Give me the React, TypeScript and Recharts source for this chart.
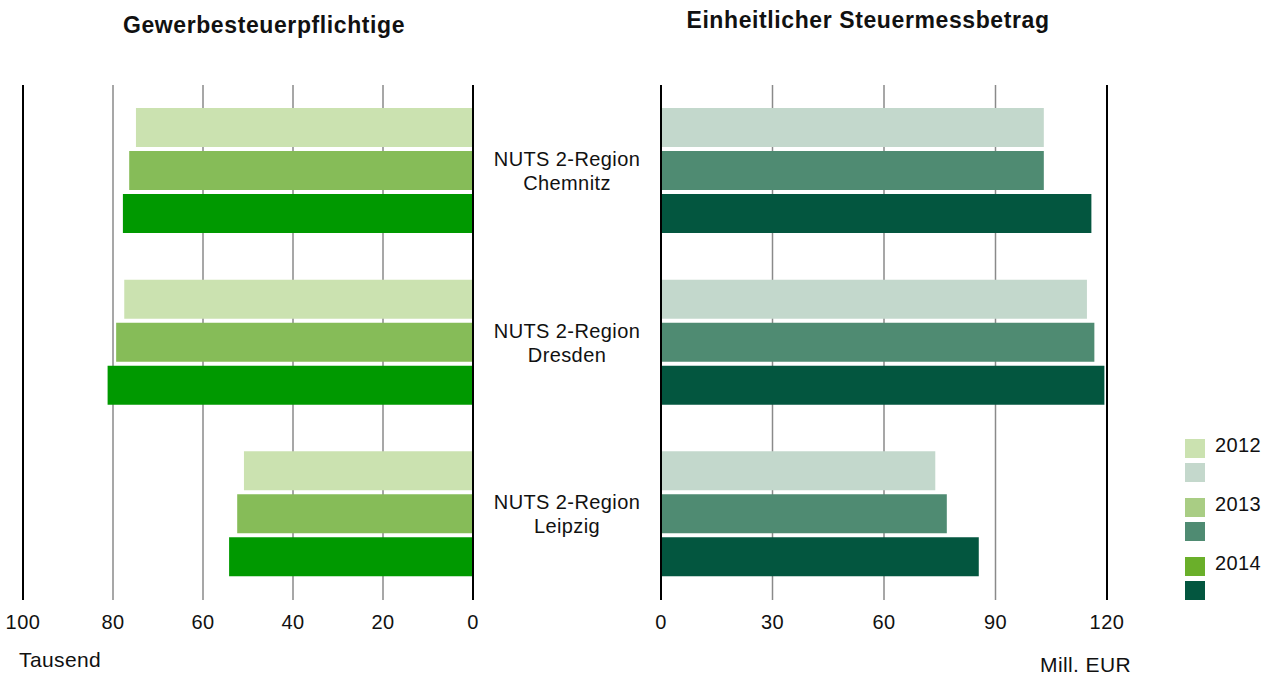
import React from "react"
import { Bar, BarChart, CartesianGrid, ReferenceLine, XAxis, YAxis } from "recharts"

const regions = ["Chemnitz", "Dresden", "Leipzig"]
const regionPrefix = "NUTS 2-Region"

// Gewerbesteuerpflichtige, Tausend
const firms2012 = [74.9, 77.5, 50.9]
const firms2013 = [76.4, 79.3, 52.4]
const firms2014 = [77.8, 81.2, 54.2]

// Einheitlicher Steuermessbetrag, Mill. EUR
const amount2012 = [103.0, 114.6, 73.8]
const amount2013 = [103.0, 116.6, 76.9]
const amount2014 = [115.8, 119.3, 85.5]

const leftTicks = [0, 20, 40, 60, 80, 100]
const rightTicks = [0, 30, 60, 90, 120]
const years = ["2012", "2013", "2014"]

const leftColors = ["#cbe2b0", "#86bc58", "#009900"]
const rightColors = ["#c3d8cc", "#4f8b72", "#03563f"]
const legendColors = [
  ["#cbe2b0", "#c4d8cc"],
  ["#a9cd84", "#4f8b72"],
  ["#6aaf2a", "#03563f"],
]

const font = "'Liberation Sans', Arial, sans-serif"

const leftData = regions.map((r, i) => ({
  region: r,
  y2012: firms2012[i],
  y2013: firms2013[i],
  y2014: firms2014[i],
}))

const rightData = regions.map((r, i) => ({
  region: r,
  y2012: amount2012[i],
  y2013: amount2013[i],
  y2014: amount2014[i],
}))

const tickStyle = { fill: "#111", fontSize: 20, fontFamily: font, letterSpacing: 0.5 }

const RegionTick = (props: any) => {
  const { y, payload } = props
  return (
    <text x={87} y={y} textAnchor="middle" fill="#111" fontSize={20} fontFamily={font} letterSpacing={0.4}>
      <tspan x={87} y={y - 5}>{regionPrefix}</tspan>
      <tspan x={87} y={y + 19}>{payload.value}</tspan>
    </text>
  )
}

const App = () => {
  return (
    <div style={{ position: "absolute", left: 0, top: 0, width: 1274, height: 678, background: "#fff", fontFamily: font, color: "#111" }}>
      <div style={{ position: "absolute", left: 64, width: 400, top: 12, textAlign: "center", fontWeight: "bold", fontSize: 23, letterSpacing: 0.6 }}>
        Gewerbesteuerpflichtige
      </div>
      <div style={{ position: "absolute", left: 618, width: 500, top: 7, textAlign: "center", fontWeight: "bold", fontSize: 23, letterSpacing: 0.6 }}>
        Einheitlicher Steuermessbetrag
      </div>

      <div style={{ position: "absolute", left: 0, top: 0 }}>
        <BarChart width={500} height={678} data={leftData} layout="vertical"
          margin={{ top: 85, right: 27, left: 23, bottom: 38 }} barSize={39} barGap={4}>
          <CartesianGrid horizontal={false} stroke="#8a8a8a" strokeWidth={1.5} />
          <XAxis type="number" domain={[0, 100]} ticks={leftTicks} reversed height={40}
            axisLine={false} tickLine={false} tickSize={0} tickMargin={15} tick={tickStyle} interval={0} />
          <YAxis type="category" dataKey="region" hide />
          <Bar dataKey="y2012" fill={leftColors[0]} isAnimationActive={false} />
          <Bar dataKey="y2013" fill={leftColors[1]} isAnimationActive={false} />
          <Bar dataKey="y2014" fill={leftColors[2]} isAnimationActive={false} />
          <ReferenceLine x={100} stroke="#000" strokeWidth={2} />
          <ReferenceLine x={0} stroke="#000" strokeWidth={2} />
        </BarChart>
      </div>

      <div style={{ position: "absolute", left: 480, top: 0 }}>
        <BarChart width={680} height={678} data={rightData} layout="vertical"
          margin={{ top: 85, right: 53, left: 0, bottom: 38 }} barSize={39} barGap={4}>
          <CartesianGrid horizontal={false} stroke="#8a8a8a" strokeWidth={1.5} />
          <XAxis type="number" domain={[0, 120]} ticks={rightTicks} height={40}
            axisLine={false} tickLine={false} tickSize={0} tickMargin={15} tick={tickStyle} interval={0} />
          <YAxis type="category" dataKey="region" width={181} axisLine={false} tickLine={false}
            tick={<RegionTick />} interval={0} />
          <Bar dataKey="y2012" fill={rightColors[0]} isAnimationActive={false} />
          <Bar dataKey="y2013" fill={rightColors[1]} isAnimationActive={false} />
          <Bar dataKey="y2014" fill={rightColors[2]} isAnimationActive={false} />
          <ReferenceLine x={0} stroke="#000" strokeWidth={2} />
          <ReferenceLine x={120} stroke="#000" strokeWidth={2} />
        </BarChart>
      </div>

      <div style={{ position: "absolute", left: 19, top: 648, fontSize: 21, letterSpacing: 0.4 }}>Tausend</div>
      <div style={{ position: "absolute", left: 1040, top: 653, fontSize: 21, letterSpacing: 0.4 }}>Mill. EUR</div>

      {years.map((yr, i) => (
        <div key={yr} style={{ position: "absolute", left: 1185, top: 439 + i * 59 }}>
          <div style={{ width: 20, height: 19, background: legendColors[i][0] }} />
          <div style={{ width: 20, height: 19, background: legendColors[i][1], marginTop: 5 }} />
          <div style={{ position: "absolute", left: 30, top: -5, fontSize: 20, letterSpacing: 0.4 }}>{yr}</div>
        </div>
      ))}
    </div>
  )
}

export default App
